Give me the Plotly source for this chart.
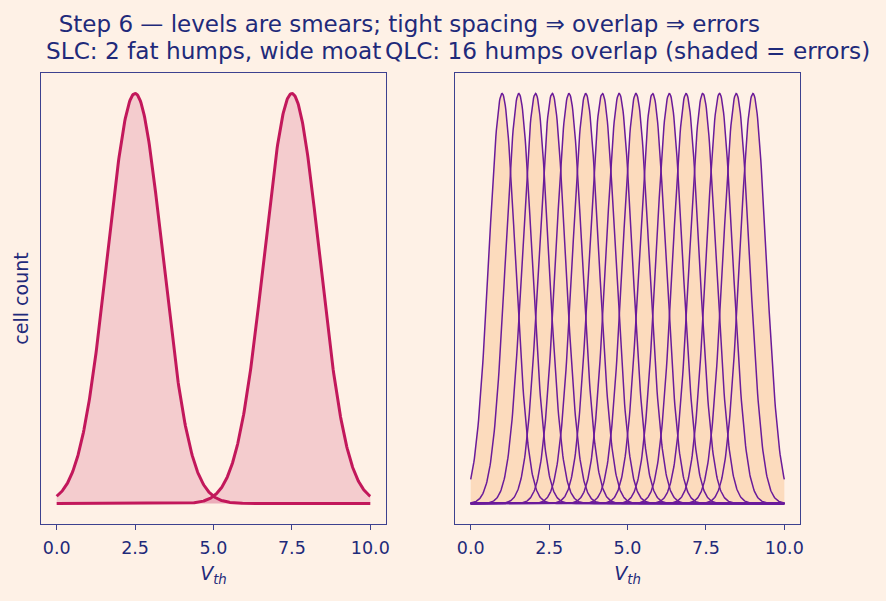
import numpy as np
import plotly.graph_objects as go
from plotly.subplots import make_subplots

# ---- data ----
slc_centers = [2.5, 7.5]
slc_sigma = 0.88
qlc_centers = list(np.linspace(1.0, 9.0, 16))
qlc_sigma = 0.42
vth = np.linspace(0, 10, 600)
x_ticks = [0.0, 2.5, 5.0, 7.5, 10.0]
x_tick_text = ["0.0", "2.5", "5.0", "7.5", "10.0"]

title_main = "Step 6 — levels are smears; tight spacing ⇒ overlap ⇒ errors"
title_left = "SLC: 2 fat humps, wide moat"
title_right = "QLC: 16 humps overlap (shaded = errors)"

BG = "#fef1e6"
NAVY = "#1f2a7a"
FRAME = "#3d418f"
SLC_LINE = "#c2185b"
SLC_FILL = "rgba(194,24,91,0.17)"
QLC_LINE = "#6a1b9a"
QLC_FILL = "#fcdbbd"
FONT = "DejaVu Sans"

fig = make_subplots(rows=1, cols=2, horizontal_spacing=0.091)

for c in slc_centers:
    y = np.exp(-((vth - c) ** 2) / (2 * slc_sigma ** 2))
    fig.add_trace(go.Scatter(x=vth, y=y, mode="lines", fill="tozeroy",
                             fillcolor=SLC_FILL,
                             line=dict(color=SLC_LINE, width=3),
                             showlegend=False, hoverinfo="skip"), row=1, col=1)

qlc_curves = [np.exp(-((vth - c) ** 2) / (2 * qlc_sigma ** 2)) for c in qlc_centers]
envelope = np.max(np.vstack(qlc_curves), axis=0)
fig.add_trace(go.Scatter(x=vth, y=envelope, mode="lines", fill="tozeroy",
                         fillcolor=QLC_FILL, line=dict(width=0),
                         showlegend=False, hoverinfo="skip"), row=1, col=2)
for y in qlc_curves:
    fig.add_trace(go.Scatter(x=vth, y=y, mode="lines",
                             line=dict(color=QLC_LINE, width=1.5),
                             showlegend=False, hoverinfo="skip"), row=1, col=2)

axis_common = dict(showgrid=False, zeroline=False, showline=True, mirror=True,
                   linecolor=FRAME, linewidth=1.2)

for col in (1, 2):
    fig.update_xaxes(range=[-0.5, 10.5], tickmode="array", tickvals=x_ticks,
                     ticktext=x_tick_text, ticks="outside", ticklen=5,
                     tickcolor=FRAME, tickwidth=1.2, ticklabelstandoff=3,
                     tickfont=dict(family=FONT, size=17.5, color=NAVY),
                     title=dict(text="<i>V</i><sub><i>th</i></sub>", standoff=9,
                                font=dict(family=FONT, size=19, color=NAVY)),
                     **axis_common, row=1, col=col)
    fig.update_yaxes(range=[-0.05, 1.05], showticklabels=False, ticks="",
                     **axis_common, row=1, col=col)

fig.update_yaxes(title=dict(text="cell count", standoff=6,
                            font=dict(family=FONT, size=19, color=NAVY)),
                 row=1, col=1)

fig.update_layout(
    width=886, height=601,
    margin=dict(l=41, r=86, t=73, b=77),
    paper_bgcolor=BG, plot_bgcolor=BG,
    font=dict(family=FONT, color=NAVY),
    title=dict(text=title_main, x=0.462, xanchor="center",
               y=1 - 24 / 601, yanchor="middle",
               font=dict(family=FONT, size=23, color=NAVY)),
    annotations=[
        dict(text=title_left, x=0.2273, y=1.0, xref="paper", yref="paper",
             xanchor="center", yanchor="bottom", yshift=7, showarrow=False,
             font=dict(family=FONT, size=23.2, color=NAVY)),
        dict(text=title_right, x=0.7727, y=1.0, xref="paper", yref="paper",
             xanchor="center", yanchor="bottom", yshift=7, showarrow=False,
             font=dict(family=FONT, size=23.2, color=NAVY)),
    ],
)

fig.write_html("out.html")
